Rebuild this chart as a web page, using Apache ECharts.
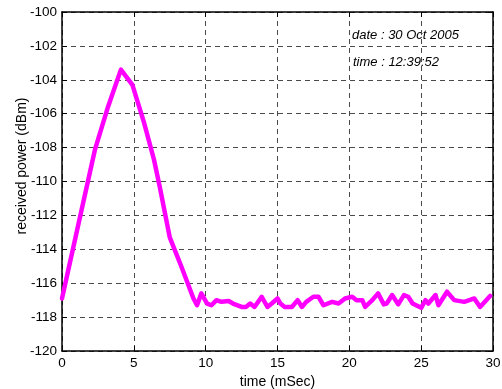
<!DOCTYPE html>
<html>
<head>
<meta charset="utf-8">
<script src="https://cdn.jsdelivr.net/npm/echarts@6/dist/echarts.min.js"></script>
<style>
  html, body { margin: 0; padding: 0; background: #fff; }
  #chart { width: 502px; height: 389px; }
</style>
</head>
<body>
<div id="chart"></div>
<script>
// Received power trace (time in ms, power in dBm)
const timeMs = [
  0, 1.2, 2.3, 3.2, 4.1, 4.9, 5.7, 6.4, 6.8, 7.5, 8.3, 9.15, 9.4, 9.7,
  10.1, 10.4, 10.75, 11.1, 11.6, 11.9, 12.5, 12.8, 13.1, 13.4, 13.9, 14.3,
  14.6, 15.0, 15.2, 15.5, 16.0, 16.4, 16.7, 17.0, 17.5, 17.85, 18.2, 18.8,
  19.25, 19.7, 20.2, 20.5, 20.9, 21.1, 21.6, 22.0, 22.4, 22.6, 22.98, 23.4,
  23.8, 24.1, 24.4, 25.0, 25.3, 25.5, 26.0, 26.2, 26.8, 27.3, 28.0, 28.7,
  29.1, 29.8
];
const powerDbm = [
  -116.9, -112.3, -108.1, -105.6, -103.4, -104.3, -106.5, -108.7, -110.3, -113.3, -115.0, -116.9, -117.3, -116.6,
  -117.2, -117.3, -117.0, -117.1, -117.05, -117.2, -117.4, -117.4, -117.2, -117.4, -116.8, -117.4,
  -117.2, -116.9, -117.2, -117.4, -117.4, -117.0, -117.4, -117.1, -116.8, -116.8, -117.3, -117.1,
  -117.2, -116.9, -116.8, -117.0, -117.0, -117.4, -117.0, -116.6, -117.25, -117.2, -116.7, -117.25,
  -116.7, -116.8, -117.2, -117.45, -117.0, -117.2, -116.7, -117.3, -116.5, -117.0, -117.1, -116.9,
  -117.4, -116.75
];
const xTicks = [0, 5, 10, 15, 20, 25, 30];
const yTicks = [-120, -118, -116, -114, -112, -110, -108, -106, -104, -102, -100];

const stamp = ['date : 30 Oct 2005', 'time : 12:39:52'];
const yTitle = 'received power (dBm)';
const xTitle = 'time (mSec)';

const font = 'Liberation Sans, Arial, sans-serif';
const chart = echarts.init(document.getElementById('chart'), null, { renderer: 'canvas' });

const gridLine = { show: true, lineStyle: { color: '#4a4a4a', type: [5, 4], width: 1 } };
const frame = { show: true, onZero: false, lineStyle: { color: '#000', width: 1.5 } };
const inTick = { show: true, inside: true, length: 5, lineStyle: { color: '#000' } };

chart.setOption({
  animation: false,
  backgroundColor: '#fff',
  grid: { left: 62, right: 9, top: 12, bottom: 38, containLabel: false, outerBoundsMode: 'none' },
  xAxis: [
    {
      type: 'value', min: xTicks[0], max: xTicks[xTicks.length - 1], interval: 5,
      axisLine: frame, axisTick: inTick, splitLine: gridLine,
      axisLabel: { color: '#000', fontSize: 13.5, fontFamily: font, margin: 5 },
      name: xTitle, nameLocation: 'middle', nameGap: 22,
      nameTextStyle: { color: '#000', fontSize: 14, fontFamily: font }
    },
    {
      type: 'value', position: 'top', min: 0, max: 30, interval: 5,
      axisLine: frame, axisTick: inTick, axisLabel: { show: false }, splitLine: { show: false }
    }
  ],
  yAxis: [
    {
      type: 'value', min: yTicks[0], max: yTicks[yTicks.length - 1], interval: 2,
      axisLine: frame, axisTick: inTick, splitLine: gridLine,
      axisLabel: { color: '#000', fontSize: 13.5, fontFamily: font, margin: 5 }
    },
    {
      type: 'value', position: 'right', min: -120, max: -100, interval: 2,
      axisLine: frame, axisTick: inTick, axisLabel: { show: false }, splitLine: { show: false }
    }
  ],
  series: [{
    type: 'line',
    data: timeMs.map((t, i) => [t, powerDbm[i]]),
    showSymbol: false,
    smooth: false,
    lineStyle: { color: '#ff00ff', width: 4.5, join: 'round', cap: 'round' },
    z: 5
  }],
  graphic: [
    {
      type: 'text', x: 22, y: 166, rotation: Math.PI / 2,
      style: {
        text: yTitle, fill: '#000', font: '14px ' + font,
        align: 'center', verticalAlign: 'middle'
      }
    },
    {
      type: 'text', left: 352, top: 29,
      style: { text: stamp[0], fill: '#000', font: 'italic 13px ' + font }
    },
    {
      type: 'text', left: 353, top: 56,
      style: { text: stamp[1], fill: '#000', font: 'italic 13px ' + font }
    }
  ]
});
</script>
</body>
</html>
